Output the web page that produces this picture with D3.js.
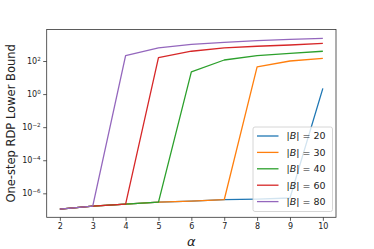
<!DOCTYPE html>
<html>
<head>
<meta charset="utf-8">
<script src="https://cdn.jsdelivr.net/npm/d3@7"></script>
<style>
  body { margin: 0; background: #fff; }
  text { font-family: "DejaVu Sans", sans-serif; fill: #222; }
</style>
</head>
<body>
<div id="canvas"></div>
<script>
"use strict"

/* Data */
let alphas = [2, 3, 4, 5, 6, 7, 8, 9, 10];
let b20 = [1.1e-7, 1.7e-7, 2.2e-7, 2.9e-7, 3.4e-7, 4.1e-7, 4.5e-7, 5.2e-7, 2.2];
let b30 = [1.1e-7, 1.7e-7, 2.2e-7, 2.9e-7, 3.4e-7, 4.1e-7, 44, 100, 145];
let b40 = [1.1e-7, 1.7e-7, 2.2e-7, 2.9e-7, 22, 115, 210, 290, 390];
let b60 = [1.1e-7, 1.7e-7, 2.2e-7, 160, 390, 620, 780, 930, 1170];
let b80 = [1.1e-7, 1.7e-7, 210, 620, 1000, 1350, 1700, 2040, 2340];
let seriesNames = ["20", "30", "40", "60", "80"];
let seriesColors = ["#1f77b4", "#ff7f0e", "#2ca02c", "#d62728", "#9467bd"];
let xTicks = [2, 3, 4, 5, 6, 7, 8, 9, 10];
let yTickExps = [-6, -4, -2, 0, 2];

/* Configuration variables: drawing */
let svgWidth = 374;
let svgHeight = 249;
let plotLeft = 46.7, plotRight = 336, plotTop = 29.5, plotBottom = 217.3;

let svg = d3.select("#canvas")
    .append("svg")
    .attr("width", svgWidth)
    .attr("height", svgHeight);

let x = d3.scaleLinear()
    .domain([1.6, 10.4])
    .range([plotLeft, plotRight]);

let y = d3.scaleLog()
    .domain([Math.pow(10, -7.45), Math.pow(10, 3.905)])
    .range([plotBottom, plotTop]);

/* Lines */
let allSeries = [b20, b30, b40, b60, b80];
let line = d3.line()
    .x(function (d, i) { return x(alphas[i]); })
    .y(function (d) { return y(d); });

let plot = svg.append("g");
allSeries.forEach(function (values, i) {
    plot.append("path")
        .attr("d", line(values))
        .attr("fill", "none")
        .attr("stroke", seriesColors[i])
        .attr("stroke-width", 1.3)
        .attr("stroke-linejoin", "round");
});

/* Axes */
let xAxis = d3.axisBottom(x)
    .tickValues(xTicks)
    .tickSize(3.5)
    .tickPadding(2.5)
    .tickFormat(d3.format("d"));

let gx = svg.append("g")
    .attr("transform", "translate(0," + plotBottom + ")")
    .call(xAxis);
gx.select(".domain").remove();
gx.selectAll("line").attr("stroke", "#333").attr("stroke-width", 0.8);
gx.selectAll("text")
    .style("font-family", "DejaVu Sans")
    .style("font-size", "8px")
    .attr("fill", "#222");

let yAxis = d3.axisLeft(y)
    .tickValues(yTickExps.map(function (e) { return Math.pow(10, e); }))
    .tickSize(3.5)
    .tickPadding(2.5)
    .tickFormat("");

let gy = svg.append("g")
    .attr("transform", "translate(" + plotLeft + ",0)")
    .call(yAxis);
gy.select(".domain").remove();
gy.selectAll("line").attr("stroke", "#333").attr("stroke-width", 0.8);

yTickExps.forEach(function (e) {
    let t = svg.append("text")
        .attr("x", plotLeft - 6)
        .attr("y", y(Math.pow(10, e)) + 3)
        .attr("text-anchor", "end")
        .style("font-size", "8px");
    t.append("tspan").text("10");
    t.append("tspan")
        .attr("dy", -3.5)
        .style("font-size", "5.6px")
        .text(e < 0 ? "\u2212" + Math.abs(e) : String(e));
});

/* Frame */
svg.append("rect")
    .attr("x", plotLeft)
    .attr("y", plotTop)
    .attr("width", plotRight - plotLeft)
    .attr("height", plotBottom - plotTop)
    .attr("fill", "none")
    .attr("stroke", "#333")
    .attr("stroke-width", 0.8);

/* Axis labels */
svg.append("text")
    .attr("x", (plotLeft + plotRight) / 2)
    .attr("y", 246)
    .attr("text-anchor", "middle")
    .style("font-size", "13px")
    .style("font-style", "italic")
    .text("\u03b1");

svg.append("text")
    .attr("transform", "translate(15," + (plotTop + plotBottom) / 2 + ") rotate(-90)")
    .attr("text-anchor", "middle")
    .style("font-size", "11.5px")
    .text("One-step RDP Lower Bound");

/* Legend */
let legend = svg.append("g")
    .attr("transform", "translate(253,127)");
legend.append("rect")
    .attr("width", 79.5)
    .attr("height", 84.5)
    .attr("rx", 2)
    .attr("fill", "white")
    .attr("fill-opacity", 0.8)
    .attr("stroke", "#ccc")
    .attr("stroke-width", 0.8);

seriesNames.forEach(function (name, i) {
    let row = legend.append("g")
        .attr("transform", "translate(0," + (9 + i * 16.4) + ")");
    row.append("line")
        .attr("x1", 4).attr("x2", 25.5)
        .attr("stroke", seriesColors[i])
        .attr("stroke-width", 1.3);
    let t = row.append("text")
        .attr("x", 33.5)
        .attr("y", 3.4)
        .style("font-size", "9.5px");
    t.append("tspan").text("|");
    t.append("tspan").style("font-style", "italic").text("B");
    t.append("tspan").text("| = " + name);
});
</script>
</body>
</html>
